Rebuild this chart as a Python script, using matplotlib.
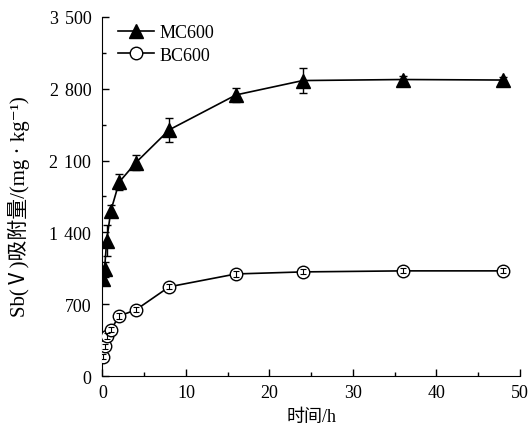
import matplotlib.pyplot as plt
from matplotlib.ticker import MultipleLocator, FixedLocator

plt.rcParams['font.family'] = ['Liberation Serif', 'Noto Sans CJK SC', 'DejaVu Serif']

# data
t = [0.083, 0.25, 0.5, 1, 2, 4, 8, 16, 24, 36, 48]
mc600 = [950, 1040, 1320, 1610, 1890, 2080, 2400, 2740, 2880, 2890, 2885]
mc600_err = [40, 70, 150, 60, 80, 70, 117, 65, 125, 30, 30]
bc600 = [190, 290, 390, 450, 585, 645, 870, 995, 1015, 1025, 1025]
bc600_err = [25, 25, 25, 25, 25, 25, 25, 25, 25, 25, 25]
yticks = [0, 700, 1400, 2100, 2800, 3500]
ylabels = ['0', '700', '1\u2004400', '2\u2004100', '2\u2004800', '3\u2004500']

fig = plt.figure(figsize=(5.31, 4.27), dpi=100)
ax = fig.add_axes([0.193, 0.117, 0.786, 0.841])

l1, = ax.plot(t, mc600, color='k', lw=1.2, marker='^', ms=10, mfc='k', mec='k', label='MC600', zorder=3)
ax.errorbar(t, mc600, yerr=mc600_err, fmt='none', ecolor='k', elinewidth=1, capsize=3, capthick=1, zorder=2)
l2, = ax.plot(t, bc600, color='k', lw=1.2, marker='o', ms=9, mfc='white', mec='k', mew=1, label='BC600', zorder=3)
ax.errorbar(t, bc600, yerr=bc600_err, fmt='none', ecolor='k', elinewidth=0.8, capsize=2.5, capthick=0.8, zorder=4)

ax.set_xlim(0, 50)
ax.set_ylim(0, 3500)
ax.xaxis.set_major_locator(MultipleLocator(10))
ax.xaxis.set_minor_locator(MultipleLocator(5))
ax.yaxis.set_major_locator(FixedLocator(yticks))
ax.yaxis.set_minor_locator(MultipleLocator(350))
ax.set_yticklabels(ylabels)

ax.spines['top'].set_visible(False)
ax.spines['right'].set_visible(False)
ax.tick_params(which='both', direction='in', labelsize=13, width=1)
ax.tick_params(which='major', length=5)
ax.tick_params(which='minor', length=3)
ax.tick_params(axis='y', pad=8)
ax.tick_params(axis='x', pad=6)

ax.set_xlabel('时间/h', fontsize=13, labelpad=5)
ax.set_ylabel('Sb(Ⅴ)吸附量/(mg · kg⁻¹)', fontsize=15)
ax.yaxis.set_label_coords(-0.174, 0.474)

ax.legend(handles=[l1, l2], loc='upper left', bbox_to_anchor=(0.02, 1.0), frameon=False,
          fontsize=13, handlelength=2.0, handletextpad=0.3, labelspacing=0.3, borderaxespad=0)

fig.savefig('out.png', dpi=100)
